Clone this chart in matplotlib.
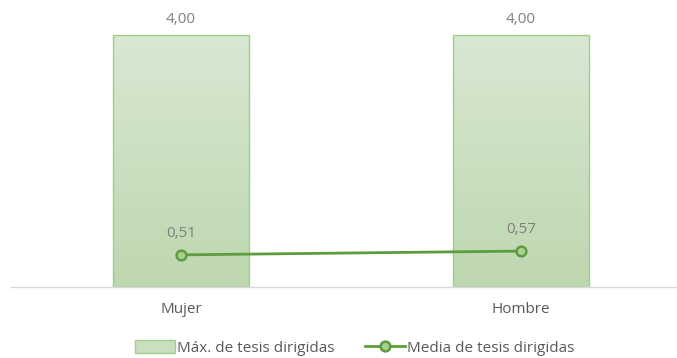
import matplotlib
matplotlib.use("Agg")
import matplotlib.pyplot as plt
import numpy as np
from matplotlib.patches import Patch
from matplotlib.lines import Line2D

categories = ["Mujer", "Hombre"]
max_tesis = [4.00, 4.00]
media_tesis = [0.51, 0.57]
series_names = ["Máx. de tesis dirigidas", "Media de tesis dirigidas"]

W, H = 677, 358
fig = plt.figure(figsize=(W / 100, H / 100), dpi=100)
plt.rcParams['font.family'] = ['Open Sans', 'DejaVu Sans']

# axes placement in pixels
left_px, right_px, base_px, top_px = 11, 677, 287, 10
ax = fig.add_axes([left_px / W, (H - base_px) / H, (right_px - left_px) / W, (base_px - top_px) / H])
px_per_unit = (base_px - 35) / 4.0
ax.set_ylim(0, (base_px - top_px) / px_per_unit)
cat_w = 340
ax.set_xlim(-0.5, -0.5 + (right_px - left_px) / cat_w)

x = np.arange(len(categories))
bar_w = 0.4
label_color = "#7f7f7f"
line_color = "#5e9c3f"
fs = 11

bars = ax.bar(x, max_tesis, width=bar_w, color="none", edgecolor="#a3cc88", linewidth=1.0, zorder=2)
grad = np.linspace(0, 1, 256).reshape(-1, 1)
top_c = np.array([0xd8, 0xe8, 0xd2]) / 255
bot_c = np.array([0xbd, 0xd7, 0xb0]) / 255
img = top_c[None, None, :] * (1 - grad[:, :, None]) + bot_c[None, None, :] * grad[:, :, None]
for b in bars:
    x0, y0 = b.get_x(), b.get_y()
    im = ax.imshow(img, extent=[x0, x0 + b.get_width(), y0, y0 + b.get_height()],
                   aspect="auto", origin="upper", zorder=1)
    im.set_clip_path(b)

for xi, v in zip(x, max_tesis):
    ax.annotate(f"{v:.2f}".replace(".", ","), (xi, v), xytext=(0, 5.5), textcoords="offset points",
                ha="center", va="bottom", fontsize=fs, color=label_color)

ax.plot(x, media_tesis, color=line_color, linewidth=2.0, marker="o", markersize=7,
        markerfacecolor="#a9d18e", markeredgecolor=line_color, markeredgewidth=1.8, zorder=3)
for xi, v in zip(x, media_tesis):
    ax.annotate(f"{v:.2f}".replace(".", ","), (xi, v), xytext=(0, 10), textcoords="offset points",
                ha="center", va="bottom", fontsize=fs, color=label_color)

for s in ["top", "right", "left"]:
    ax.spines[s].set_visible(False)
ax.spines["bottom"].set_color("#d9d9d9")
ax.spines["bottom"].set_linewidth(1.0)
ax.set_yticks([])
ax.set_xticks(x)
ax.set_xticklabels(categories, fontsize=fs, color="#595959")
ax.tick_params(axis="x", length=0, pad=11)

handles = [
    Patch(facecolor="#c9e0c0", edgecolor="#a3cc88", linewidth=1.0),
    Line2D([0], [0], color=line_color, linewidth=2.0, marker="o", markersize=7,
           markerfacecolor="#a9d18e", markeredgecolor=line_color, markeredgewidth=1.8),
]
fig.legend(handles, series_names, loc="center", bbox_to_anchor=(0.524, 1 - 348 / H), ncol=2,
           frameon=False, fontsize=fs, labelcolor="#595959", handlelength=2.6,
           handletextpad=0.15, columnspacing=2.0, handleheight=0.9)

fig.savefig("out.png", dpi=100)
